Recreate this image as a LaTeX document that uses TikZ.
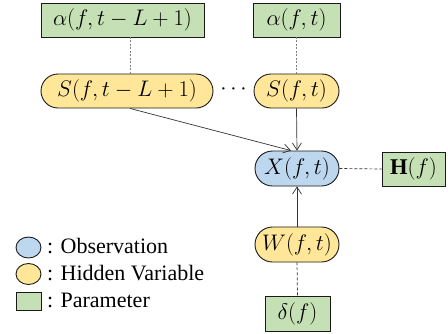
\RequirePackage{fix-cm}
\documentclass[tikz,border=0pt]{standalone}
\usepackage{fontspec}
\setmainfont{Liberation Serif}
\newfontfamily\legfont{Liberation Serif}
\usetikzlibrary{arrows.meta,shapes.misc,shapes.geometric}
\definecolor{pgreen}{HTML}{C5E0B4}
\definecolor{pyellow}{HTML}{FFE699}
\definecolor{pblue}{HTML}{BDD7EE}
\definecolor{pborder}{HTML}{1A1A1A}
\tikzset{
  mfont/.style={font=\fontsize{22.5}{26}\selectfont},
  param/.style={draw=pborder, line width=0.9pt, fill=pgreen, rectangle, minimum height=34pt, inner sep=0pt, mfont},
  hidden/.style={draw=pborder, line width=0.9pt, fill=pyellow, rounded rectangle, minimum height=34pt, inner sep=0pt, mfont},
  obs/.style={draw=pborder, line width=0.9pt, fill=pblue, rounded rectangle, minimum height=35pt, inner sep=0pt, mfont},
  dotline/.style={gray, line width=0.8pt, dash pattern=on 2pt off 1.5pt},
  dashline/.style={black!80, line width=0.7pt, dash pattern=on 3pt off 2pt},
  arr/.style={black!80, line width=0.7pt, -{Straight Barb[length=7pt,width=9pt]}},
  legtext/.style={anchor=west, inner sep=0pt, font=\legfont\fontsize{22}{26}\selectfont}
}
\begin{document}
\begin{tikzpicture}[x=1pt,y=-1pt]
\useasboundingbox (0,0) rectangle (448,333);
% nodes
\node[param, minimum width=163pt] (aL) at (122.5,20) {$\alpha(f,t-L+1)$};
\node[param, minimum width=87pt] (aR) at (296.5,20) {$\alpha(f,t)$};
\node[hidden, minimum width=172pt] (sL) at (127,91) {$S(f,t-L+1)$};
\node[hidden, minimum width=85pt] (sR) at (296.5,91) {$S(f,t)$};
\node[mfont, inner sep=0pt] (dots) at (233.5,89) {$\cdots$};
\node[obs, minimum width=84pt] (X) at (297,168.5) {$X(f,t)$};
\node[param, minimum width=63pt] (H) at (413.5,169) {$\mathbf{H}(f)$};
\node[hidden, minimum width=84pt, minimum height=35pt] (W) at (297,244.5) {$W(f,t)$};
\node[param, minimum width=65pt, minimum height=35pt] (D) at (297.5,313.5) {$\delta(f)$};
% connectors
\draw[dotline] ([xshift=3pt]sL.north) -- ([xshift=3pt]sL.north |- aL.south);
\draw[dotline] (sR.north) -- (aR.south);
\draw[arr] ([xshift=3pt]sL.south) -- ([xshift=-6pt]X.north);
\draw[arr] (sR.south) -- (X.north);
\draw[dashline] (X.east) -- (H.west);
\draw[arr] (W.north) -- (X.south);
\draw[dashline] (W.south) -- (D.north);
% legend
\node[draw=pborder, line width=0.9pt, fill=pblue, ellipse, minimum width=25pt, minimum height=21pt, inner sep=0pt] (l1) at (28.5,247.5) {};
\node[draw=pborder, line width=0.9pt, fill=pyellow, ellipse, minimum width=25pt, minimum height=21pt, inner sep=0pt] (l2) at (28.5,274) {};
\node[draw=pborder, line width=0.9pt, fill=pgreen, rectangle, minimum width=25pt, minimum height=18pt, inner sep=0pt] (l3) at (28.5,301) {};
\node[legtext] (t1) at (47,246) {: Observation};
\node[legtext] (t2) at (47,273) {: Hidden Variable};
\node[legtext] (t3) at (47,300) {: Parameter};
\end{tikzpicture}
\end{document}
